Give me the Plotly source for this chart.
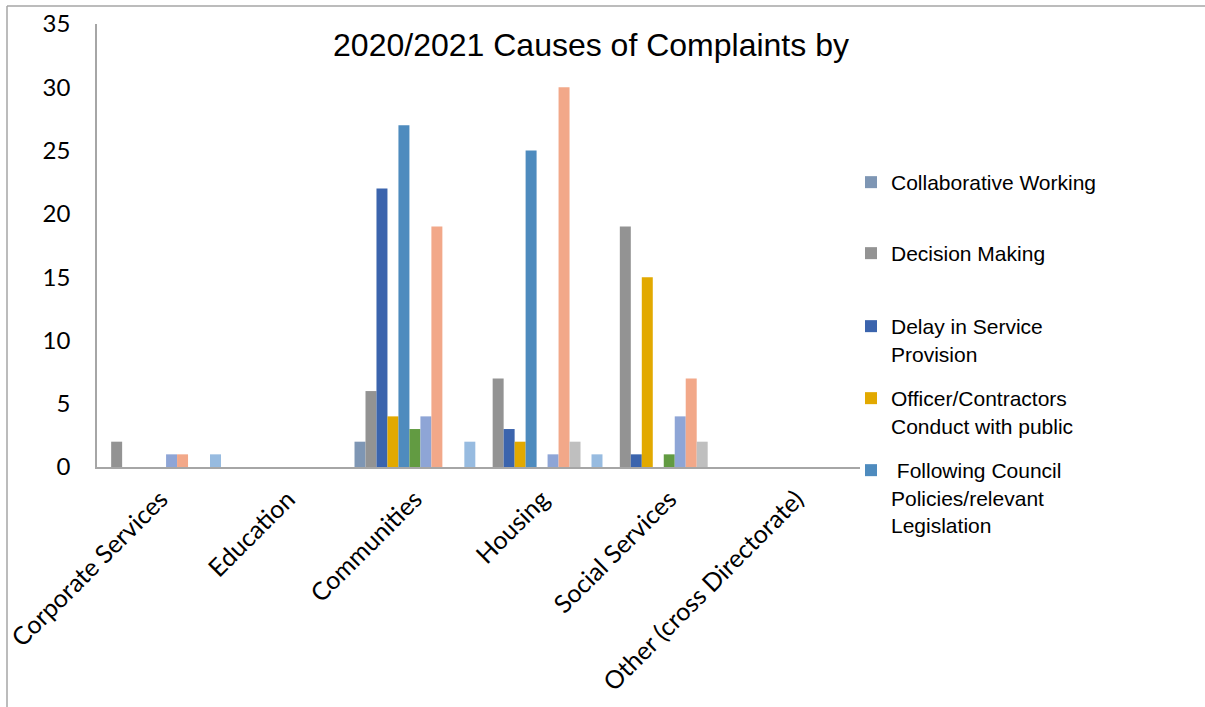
import plotly.graph_objects as go

categories = ["Corporate Services", "Education", "Communities", "Housing",
              "Social Services", "Other (cross Directorate)"]

series_names = [
    "Collaborative Working",
    "Decision Making",
    "Delay in Service<br>Provision",
    "Officer/Contractors<br>Conduct with public",
    " Following Council<br>Policies/relevant<br>Legislation",
    "Cause 6",
    "Cause 7",
    "Cause 8",
    "Cause 9",
    "Cause 10",
    "Cause 11",
]

collaborative_working = [0, 0, 2, 0, 0, 0]
decision_making = [2, 0, 6, 7, 19, 0]
delay_in_service = [0, 0, 22, 3, 1, 0]
officer_conduct = [0, 0, 4, 2, 15, 0]
following_policies = [0, 0, 27, 25, 0, 0]
cause_6 = [0, 0, 3, 0, 1, 0]
cause_7 = [1, 0, 4, 1, 4, 0]
cause_8 = [1, 0, 19, 30, 7, 0]
cause_9 = [0, 0, 0, 2, 2, 0]
cause_10 = [0, 0, 0, 0, 0, 0]
cause_11 = [1, 0, 2, 1, 0, 0]

series_values = [collaborative_working, decision_making, delay_in_service,
                 officer_conduct, following_policies, cause_6, cause_7,
                 cause_8, cause_9, cause_10, cause_11]

colors = ["#7E96B4", "#939393", "#3B64AD", "#E2A900", "#4E8BBE", "#629B42",
          "#8EA5D6", "#F2A889", "#BFBFBF", "#F5C04A", "#97BBE0"]

y_ticks = [0, 5, 10, 15, 20, 25, 30, 35]

# plot area in pixels
L, R, T, B = 97, 860, 24, 467
W, H = 1205, 707

def px_x(p):
    return (p - L) / (R - L)

def px_y(p):
    return 1 - (p - T) / (B - T)

legend_tops = [162, 233, 306, 378, 450]

fig = go.Figure()
for i, (name, vals, col) in enumerate(zip(series_names, series_values, colors)):
    kw = {}
    if i < 5:
        kw["legend"] = "legend" if i == 0 else f"legend{i+1}"
        kw["showlegend"] = True
    else:
        kw["showlegend"] = False
    fig.add_trace(go.Bar(x=categories, y=vals, name=name,
                         marker=dict(color=col, line=dict(width=0)), **kw))

legend_font = dict(family="Liberation Sans, Arial, sans-serif", size=21, color="#000000")
layout_legends = {}
for i in range(5):
    key = "legend" if i == 0 else f"legend{i+1}"
    layout_legends[key] = dict(
        x=px_x(851), xanchor="left",
        y=px_y(legend_tops[i]), yanchor="top",
        font=legend_font, bgcolor="rgba(0,0,0,0)", borderwidth=0,
        itemwidth=30, valign="top", tracegroupgap=0,
    )

fig.update_layout(
    width=W, height=H,
    margin=dict(l=L, r=W - R, t=T, b=H - B, autoexpand=False),
    paper_bgcolor="#FFFFFF", plot_bgcolor="#FFFFFF",
    barmode="group", bargap=0.05, bargroupgap=0,
    title=dict(text="2020/2021 Causes of Complaints by",
               font=dict(family="Liberation Sans, Arial, sans-serif", size=32, color="#000000"),
               x=591 / W, xanchor="center", xref="container",
               y=1 - 45 / H, yanchor="middle", yref="container"),
    **layout_legends,
)

fig.update_xaxes(
    showline=True, linecolor="#A6A6A6", linewidth=1.5,
    showgrid=False, zeroline=False, ticks="",
    tickangle=-45, ticklabelstandoff=6,
    tickfont=dict(family="Lato, Calibri, sans-serif", size=25, color="#000000"),
)
fig.update_yaxes(
    range=[0, 35], tickvals=y_ticks, ticktext=[str(v) for v in y_ticks],
    showline=True, linecolor="#A6A6A6", linewidth=1.5,
    showgrid=False, zeroline=False, ticks="",
    ticklabelstandoff=20,
    tickfont=dict(family="Lato, Calibri, sans-serif", size=24, color="#000000"),
)

# outer frame (top and left border)
fig.add_shape(type="line", xref="paper", yref="paper",
              x0=px_x(7), x1=px_x(1205), y0=px_y(6), y1=px_y(6),
              line=dict(color="#A6A6A6", width=1.5))
fig.add_shape(type="line", xref="paper", yref="paper",
              x0=px_x(7), x1=px_x(7), y0=px_y(6), y1=px_y(707),
              line=dict(color="#A6A6A6", width=1.5))

fig.write_html("out.html")
